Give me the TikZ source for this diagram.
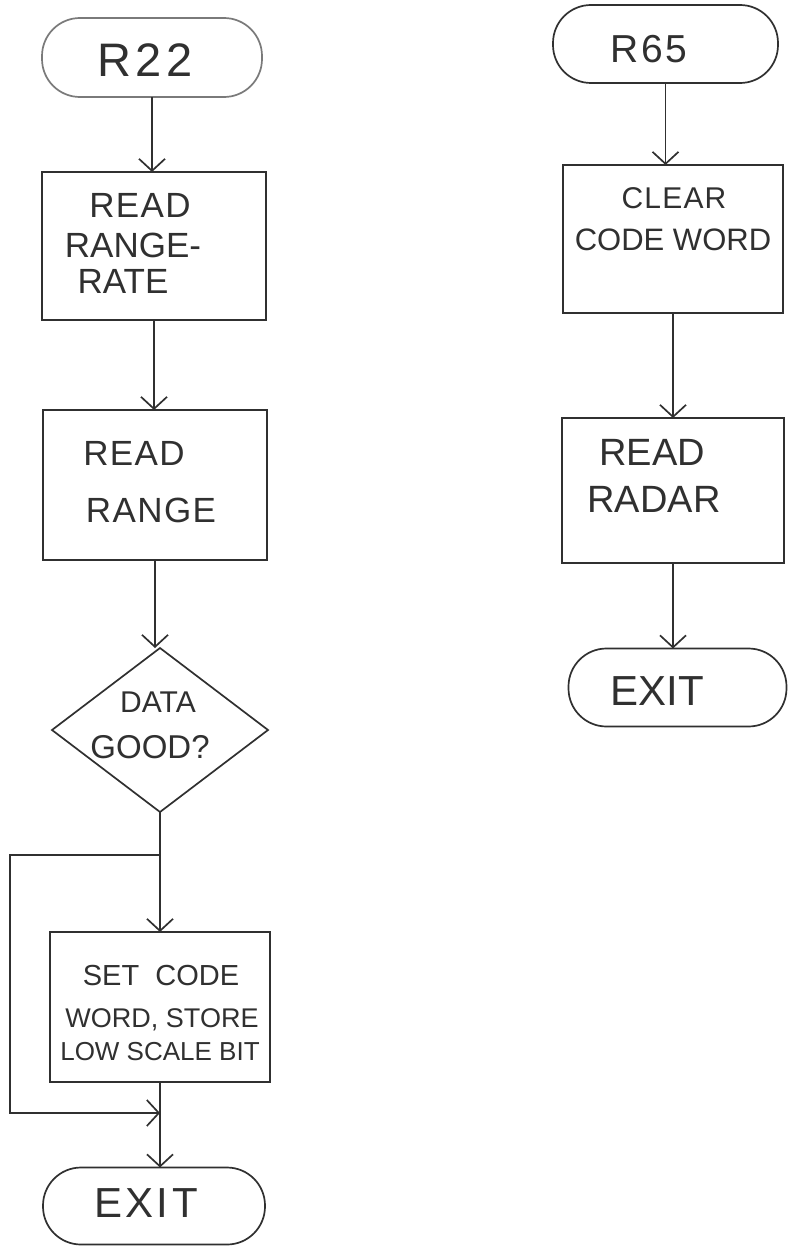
\documentclass[tikz,border=0pt]{standalone}
\usepackage{fontspec}
\setmainfont{Liberation Sans}
\usetikzlibrary{arrows.meta,shapes.geometric}
\definecolor{ink}{HTML}{303030}
\definecolor{inkl}{HTML}{7A7A7A}
\newcommand{\setfs}[1]{\fontsize{#1}{#1}\selectfont}
\newcommand{\wide}[1]{\addfontfeature{LetterSpace=#1}}
\begin{document}
\begin{tikzpicture}[x=1pt,y=-1pt,
  line width=1.7pt,
  shp/.style={draw=ink, inner sep=0pt, outer sep=0pt},
  box/.style={shp, rectangle},
  term/.style={shp, rectangle, rounded corners=38pt},
  cond/.style={shp, diamond},
  txt/.style={text=ink, inner sep=0pt, anchor=base},
  arr/.style={draw=ink, -{Straight Barb[length=12pt,width=26pt,line width=1.7pt]}},
  ln/.style={draw=ink}]
\useasboundingbox (0,0) rectangle (788,1247);
\fill[white] (0,0) rectangle (788,1247);

% ---------- left column ----------
\node[term, draw=inkl, minimum width=220pt, minimum height=79pt] (r22) at (152,57.5) {};
\node[txt, font=\setfs{47}\wide{10}] (tr22) at (145,77) {R22};

\node[box, minimum width=224pt, minimum height=148pt] (b1) at (154,246) {};
\node[txt, font=\setfs{35}\wide{4}] (t1a) at (140,217) {READ};
\node[txt, font=\setfs{35}] (t1b) at (133,257) {RANGE-};
\node[txt, font=\setfs{35}] (t1c) at (123,293) {RATE};

\node[box, minimum width=224pt, minimum height=150pt] (b2) at (155,485) {};
\node[txt, font=\setfs{35}\wide{4}] (t2a) at (134,465) {READ};
\node[txt, font=\setfs{35}\wide{4}] (t2b) at (151,522) {RANGE};

\node[cond, minimum width=216pt, minimum height=164pt] (dia) at (160,730) {};
\node[txt, font=\setfs{30}] (tda) at (158,712) {DATA};
\node[txt, font=\setfs{33}] (tdb) at (150,758) {GOOD?};

\node[box, minimum width=220pt, minimum height=150pt] (b3) at (160,1007) {};
\node[txt, font=\setfs{29}] (t3a) at (161,985) {SET\ \ CODE};
\node[txt, font=\setfs{27}] (t3b) at (162,1027) {WORD, STORE};
\node[txt, font=\setfs{26}] (t3c) at (160,1060) {LOW SCALE BIT};

\node[term, minimum width=222pt, minimum height=77pt] (exl) at (154,1206) {};
\node[txt, font=\setfs{42}\wide{8}] (texl) at (146,1217) {EXIT};

\coordinate (j1) at (160,855);
\coordinate (j2) at (160,1113);
\coordinate (c1) at (10,855);
\coordinate (c2) at (10,1113);

\draw[arr] (r22.south) -- (r22.south |- b1.north);
\draw[arr] (b1.south) -- (b1.south |- b2.north);
\draw[arr] (b2.south) -- (b2.south |- dia.north);
\draw[ln] (dia.south) -- (j1);
\draw[arr] (j1) -- (b3.north);
\draw[arr] (j1) -- (c1) -- (c2) -- (j2);
\draw[arr] (b3.south) -- (b3.south |- exl.north);

% ---------- right column ----------
\node[term, minimum width=225pt, minimum height=78pt] (r65) at (665.5,44) {};
\node[txt, font=\setfs{39}\wide{6}] (tr65) at (649,63) {R65};

\node[box, minimum width=220pt, minimum height=148pt] (b4) at (673,239) {};
\node[txt, font=\setfs{30}\wide{4}] (t4a) at (674,208) {CLEAR};
\node[txt, font=\setfs{31}] (t4b) at (673,250) {CODE WORD};

\node[box, minimum width=222pt, minimum height=145pt] (b5) at (673,490.5) {};
\node[txt, font=\setfs{38}] (t5a) at (652,465) {READ};
\node[txt, font=\setfs{38}] (t5b) at (654,512) {RADAR};

\node[term, minimum width=218pt, minimum height=78pt] (exr) at (677.5,687.5) {};
\node[txt, font=\setfs{42}] (texr) at (657,705) {EXIT};

\draw[arr] (r65.south) -- (r65.south |- b4.north);
\draw[arr] (b4.south) -- (b4.south |- b5.north);
\draw[arr] (b5.south) -- (b5.south |- exr.north);
\end{tikzpicture}
\end{document}
